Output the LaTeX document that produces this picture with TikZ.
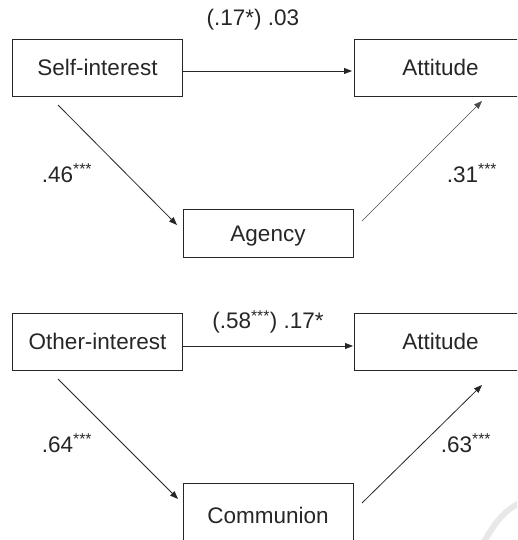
\documentclass[tikz,border=0pt]{standalone}
\usepackage{fontspec}
\setmainfont{Liberation Sans}
\usetikzlibrary{arrows.meta}
\begin{document}
\begin{tikzpicture}[x=1pt,y=-1pt,
  box/.style={draw=black!85,line width=0.9pt,minimum width=170pt,minimum height=57pt,inner sep=0pt,font=\fontsize{22.5}{26}\selectfont,text=black!85},
  midbox/.style={box,minimum height=48pt},
  lbl/.style={font=\fontsize{22.5}{26}\selectfont,text=black!85,inner sep=0pt},
  arr/.style={line width=0.8pt,draw=black!85,-{Triangle[length=8pt,width=6pt]}},
  thinarr/.style={line width=0.5pt,draw=black!70,-{Triangle[length=8pt,width=6pt]}}]
\useasboundingbox (0,0) rectangle (517,540);
\clip (0,0) rectangle (517,540);
% top panel
\node[box] (si) at (97.5,67.5) {Self-interest};
\node[box,minimum width=164pt,anchor=west] (at1) at (354,67.5) {\hspace*{4pt}Attitude\hspace*{-4pt}};
\node[midbox] (ag) at (268,233) {};
\node[lbl] (agt) at (268,236) {Agency};
\coordinate (s1) at (183,71);
\coordinate (e1) at (352,71);
\draw[arr] (s1) -- (e1);
\node[lbl] (l1) at (253,20) {(.17*) .03};
\coordinate (s2) at (58,105);
\coordinate (e2) at (177,225);
\draw[arr] (s2) -- (e2);
\node[lbl] (l2) at (67,173) {.46\textsuperscript{***}};
\coordinate (s3) at (362,221);
\coordinate (e3) at (482,101);
\draw[thinarr] (s3) -- (e3);
\node[lbl] (l3) at (472,173) {.31\textsuperscript{***}};
% bottom panel
\node[box] (oi) at (97.5,341.5) {Other-interest};
\node[box,minimum width=164pt,anchor=west] (at2) at (354,341.5) {\hspace*{4pt}Attitude\hspace*{-4pt}};
\node[box,minimum height=70pt,anchor=north] (cm) at (268,483) {};
\node[lbl] (cmt) at (268,515) {Communion};
\coordinate (s4) at (183,346);
\coordinate (e4) at (353,346);
\draw[arr] (s4) -- (e4);
\node[lbl] (l4) at (268,322) {(.58\textsuperscript{***}) .17*};
\coordinate (s5) at (58,379);
\coordinate (e5) at (178,499);
\draw[arr] (s5) -- (e5);
\node[lbl] (l5) at (67,443) {.64\textsuperscript{***}};
\coordinate (s6) at (362,503);
\coordinate (e6) at (482,385);
\draw[arr] (s6) -- (e6);
\node[lbl] (l6) at (466,443) {.63\textsuperscript{***}};
% watermark arc
\draw[black!9,line width=6pt] (484,542) .. controls (495,522) and (505,510) .. (520,503);
\end{tikzpicture}
\end{document}
